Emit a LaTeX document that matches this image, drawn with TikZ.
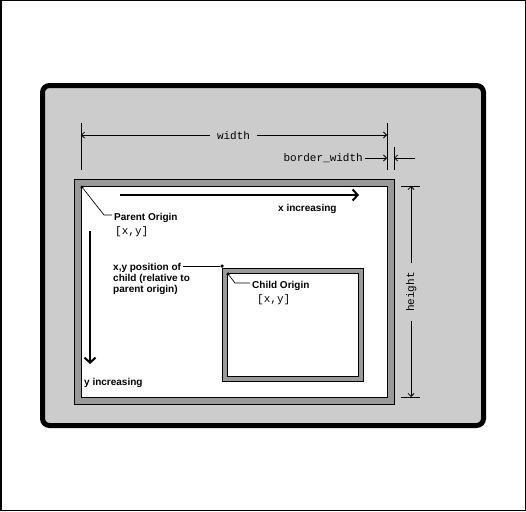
\documentclass[tikz,border=0pt]{standalone}
\usepackage{fontspec}
\setmainfont{Liberation Sans}
\newfontfamily\monof{Liberation Mono}
\usetikzlibrary{arrows.meta}
\definecolor{stip}{gray}{0.80}
\definecolor{stipdark}{gray}{0.60}
\begin{document}
\begin{tikzpicture}[x=1pt,y=-1pt,
  lab/.style={font=\bfseries\fontsize{10}{11}\selectfont, inner xsep=2pt, inner ysep=0pt},
  mono/.style={font=\monof\fontsize{11}{13}\selectfont, inner sep=0pt},
  dim/.style={line width=0.8pt},
  barb/.tip={Straight Barb[length=3pt,width=6pt]},
  bigbarb/.tip={Straight Barb[length=5pt,width=11pt,line width=2pt]},
  dotnode/.style={circle,fill=black,inner sep=0pt,minimum size=3.5pt},
  leader/.style={line width=0.7pt},
  frameline/.style={line width=1pt}]

\useasboundingbox (0,0) rectangle (526,511);
% screen frame
\draw[line width=1.5pt] (0.75,0.75) rectangle (525.25,510.25);
% big rounded panel
\draw[line width=5pt, rounded corners=7pt, fill=stip] (42.5,85.5) rectangle (483.5,425.5);

% parent window
\draw[frameline, fill=stipdark] (74,179) rectangle (394,404);
\draw[frameline, fill=white] (81,186) rectangle (387,397);
% child window
\draw[frameline, fill=stipdark] (222,268) rectangle (363,381);
\draw[frameline, fill=white] (227,273) rectangle (358,376);

% width dimension
\coordinate (wl) at (81,135);
\coordinate (wr) at (387,135);
\coordinate (e1t) at (81,123);   \coordinate (e1b) at (81,170);
\coordinate (e2t) at (387,123);  \coordinate (e2b) at (387,170);
\coordinate (e3t) at (394,147);  \coordinate (e3b) at (394,170);
\draw[dim] (e1t) -- (e1b);
\draw[dim] (e2t) -- (e2b);
\draw[dim] (e3t) -- (e3b);
\draw[dim, barb-barb] (wl) -- (wr);
\node[mono, fill=stip, inner xsep=7pt, inner ysep=1pt, anchor=base] (wlab) at (233.5,139) {width};

% border_width dimension
\node[mono, anchor=base east] (bwlab) at (363,161) {border\_width};
\coordinate (bw1) at (365,158);
\coordinate (bw2) at (387,158);
\coordinate (bw3) at (415,158);
\coordinate (bw4) at (394,158);
\draw[dim, -barb] (bw1) -- (bw2);
\draw[dim, -barb] (bw3) -- (bw4);

% height dimension
\coordinate (ht) at (411,186);
\coordinate (hb) at (411,397);
\coordinate (htl) at (401,186); \coordinate (htr) at (420,186);
\coordinate (hbl) at (401,397); \coordinate (hbr) at (420,397);
\draw[dim] (htl) -- (htr);
\draw[dim] (hbl) -- (hbr);
\draw[dim, barb-barb] (ht) -- (hb);
\node[mono, fill=stip, rotate=90, inner xsep=9pt, inner ysep=1pt, anchor=base] (hlab) at (414,292) {height};

% parent origin
\node[dotnode] (po) at (82,187) {};
\node[lab, anchor=base west] (polab) at (112,220) {Parent Origin};
\node[mono, anchor=base west] (poxy) at (115,234) {[x,y]};
\coordinate (pobend) at (104,215);
\draw[leader] (po) -- (pobend) -- (pobend -| polab.west);

% x increasing
\coordinate (xs) at (120,195);
\coordinate (xe) at (359,195);
\draw[line width=2pt, -bigbarb] (xs) -- (xe);
\node[lab, anchor=base west] (xlab) at (276,211) {x increasing};

% y increasing
\coordinate (ys) at (90,231);
\coordinate (ye) at (90,364);
\draw[line width=1.2pt, -bigbarb] (ys) -- (ye);
\node[lab, anchor=base west] (ylab) at (82,385) {y increasing};

% x,y position of child
\node[lab, anchor=base west] (pos1) at (111,270) {x,y position of};
\node[lab, anchor=base west] (pos2) at (111,281) {child (relative to};
\node[lab, anchor=base west] (pos3) at (111,292) {parent origin)};
\node[dotnode] (cd) at (222,266) {};
\draw[leader] (pos1.east |- cd) -- (cd);

% child origin
\node[dotnode] (co) at (228,274) {};
\node[lab, anchor=base west] (colab) at (250,288) {Child Origin};
\node[mono, anchor=base west] (coxy) at (257,302) {[x,y]};
\coordinate (cobend) at (235,283);
\draw[leader] (co) -- (cobend) -- (cobend -| colab.west);
\end{tikzpicture}
\end{document}
